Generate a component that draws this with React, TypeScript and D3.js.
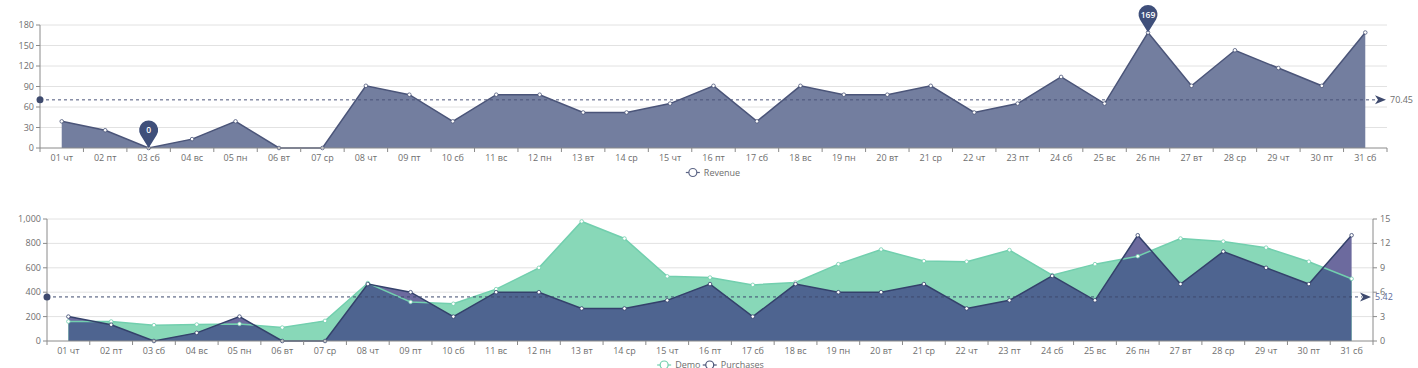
import React from "react";
import * as d3 from "d3";

// --- data ---
const days = ["01 чт", "02 пт", "03 сб", "04 вс", "05 пн", "06 вт", "07 ср", "08 чт", "09 пт", "10 сб",
  "11 вс", "12 пн", "13 вт", "14 ср", "15 чт", "16 пт", "17 сб", "18 вс", "19 пн", "20 вт", "21 ср",
  "22 чт", "23 пт", "24 сб", "25 вс", "26 пн", "27 вт", "28 ср", "29 чт", "30 пт", "31 сб"];
const revenue = [39, 26, 0, 13, 39, 0, 0, 91, 78, 39, 78, 78, 52, 52, 65, 91, 39, 91, 78, 78, 91,
  52, 65, 104, 65, 169, 91, 143, 117, 91, 169];
const purchases = [3, 2, 0, 1, 3, 0, 0, 7, 6, 3, 6, 6, 4, 4, 5, 7, 3, 7, 6, 6, 7, 4, 5, 8, 5, 13, 7, 11, 9, 7, 13];
const demo = [160, 160, 130, 135, 140, 110, 165, 475, 320, 305, 425, 600, 980, 840, 530, 520, 460, 480,
  630, 750, 655, 650, 745, 540, 630, 695, 840, 815, 765, 650, 510];
const revTicks = [0, 30, 60, 90, 120, 150, 180];
const demoTicks = [0, 200, 400, 600, 800, 1000];
const purchTicks = [0, 3, 6, 9, 12, 15];

const FONT = "'Open Sans', 'Noto Sans', sans-serif";
const AXIS = "#8a8a8a";
const LABEL = "#6e6e6e";
const GRID = "#e2e2e2";

const pinPath = (px: number, py: number, r = 9.5, d = 18) => {
  const cx = px, cy = py - d;
  const cos = r / d;
  const sin = Math.sqrt(1 - cos * cos);
  const ax = cx - r * sin, ay = cy + r * cos;
  const bx = cx + r * sin;
  return `M${px},${py} L${ax},${ay} A${r},${r} 0 1 1 ${bx},${ay} Z`;
};

const arrowPath = (tx: number, ty: number) =>
  `M${tx},${ty} L${tx - 11},${ty - 4.5} L${tx - 8},${ty} L${tx - 11},${ty + 4.5} Z`;

function XAxis({ x, y }: { x: d3.ScaleBand<string>; y: number }) {
  const bw = x.bandwidth();
  const [r0, r1] = x.range();
  const bounds = days.map((d) => x(d)!).concat([r1]);
  return (
    <g>
      <line x1={r0} x2={r1} y1={y} y2={y} stroke={AXIS} />
      {bounds.map((b, i) => (
        <line key={i} x1={b} x2={b} y1={y} y2={y + 4} stroke={AXIS} />
      ))}
      {days.map((d) => (
        <text key={d} x={x(d)! + bw / 2} y={y + 13} textAnchor="middle" fontSize={9} fill={LABEL}>
          {d}
        </text>
      ))}
    </g>
  );
}

function Legend({ items, cx, y }: { items: { name: string; color: string }[]; cx: number; y: number }) {
  // approximate widths
  const widths = items.map((it) => 20 + it.name.length * 4.9);
  const total = widths.reduce((a, b) => a + b, 0) + (items.length - 1) * 6;
  let cur = cx - total / 2;
  return (
    <g>
      {items.map((it, i) => {
        const x0 = cur;
        cur += widths[i] + 6;
        return (
          <g key={it.name}>
            <line x1={x0} x2={x0 + 14} y1={y} y2={y} stroke={it.color} strokeWidth={1.2} />
            <circle cx={x0 + 7} cy={y} r={4} fill="#fff" stroke={it.color} strokeWidth={1.2} />
            <text x={x0 + 18} y={y + 3} fontSize={9} fill={LABEL}>{it.name}</text>
          </g>
        );
      })}
    </g>
  );
}

function TopChart() {
  const x = d3.scaleBand<string>().domain(days).range([40, 1387]);
  const y = d3.scaleLinear().domain([0, 180]).range([148, 25]);
  const bw = x.bandwidth();
  const px = (i: number) => x(days[i])! + bw / 2;
  const area = d3.area<number>().x((_, i) => px(i)).y0(y(0)).y1((d) => y(d));
  const line = d3.line<number>().x((_, i) => px(i)).y((d) => y(d));
  const avg = d3.mean(revenue)!;
  const maxI = revenue.indexOf(d3.max(revenue)!);
  const minI = revenue.indexOf(d3.min(revenue)!);
  const lineColor = "#4b5579";
  return (
    <g>
      {revTicks.map((t) => (
        <g key={t}>
          {t > 0 && <line x1={40} x2={1387} y1={y(t)} y2={y(t)} stroke={GRID} />}
          <line x1={36} x2={40} y1={y(t)} y2={y(t)} stroke={AXIS} />
          <text x={34} y={y(t) + 3} textAnchor="end" fontSize={9} fill={LABEL}>{t}</text>
        </g>
      ))}
      <line x1={40} x2={40} y1={y(180)} y2={y(0)} stroke={AXIS} />
      <path d={area(revenue)!} fill="#737e9f" />
      <path d={line(revenue)!} fill="none" stroke={lineColor} strokeWidth={1.5} />
      {revenue.map((v, i) => (
        <circle key={i} cx={px(i)} cy={y(v)} r={1.8} fill="#fff" stroke={lineColor} strokeWidth={0.8} />
      ))}
      <XAxis x={x} y={148} />
      {/* average mark line */}
      <line x1={40} x2={1378} y1={y(avg)} y2={y(avg)} stroke="#4b5579" strokeDasharray="3,3" strokeWidth={1} />
      <circle cx={40} cy={y(avg)} r={3.5} fill="#3e4a6e" />
      <path d={arrowPath(1386, y(avg))} fill="#3e4a6e" />
      <text x={1390} y={y(avg) + 3} fontSize={9} fill={LABEL}>{avg.toFixed(2)}</text>
      {/* mark points */}
      {[minI, maxI].map((i) => (
        <g key={i}>
          <path d={pinPath(px(i), y(revenue[i]))} fill="#3f4f7a" />
          <text x={px(i)} y={y(revenue[i]) - 15} textAnchor="middle" fontSize={8.5} fontWeight={600} fill="#fff">
            {revenue[i]}
          </text>
        </g>
      ))}
      <Legend items={[{ name: "Revenue", color: "#5b6485" }]} cx={713} y={172.5} />
    </g>
  );
}

function BottomChart() {
  const x = d3.scaleBand<string>().domain(days).range([47, 1373]);
  const yL = d3.scaleLinear().domain([0, 1000]).range([341, 219]);
  const yR = d3.scaleLinear().domain([0, 15]).range([341, 219]);
  const bw = x.bandwidth();
  const px = (i: number) => x(days[i])! + bw / 2;
  const demoArea = d3.area<number>().x((_, i) => px(i)).y0(yL(0)).y1((d) => yL(d));
  const demoLine = d3.line<number>().x((_, i) => px(i)).y((d) => yL(d));
  const purArea = d3.area<number>().x((_, i) => px(i)).y0(yR(0)).y1((d) => yR(d));
  const purLine = d3.line<number>().x((_, i) => px(i)).y((d) => yR(d));
  const avg = d3.mean(purchases)!;
  const green = "#72cfae";
  const navy = "#34416b";
  return (
    <g>
      <defs>
        <clipPath id="demoClip">
          <path d={demoArea(demo)!} />
        </clipPath>
      </defs>
      {demoTicks.map((t) => (
        <g key={t}>
          {t > 0 && <line x1={47} x2={1373} y1={yL(t)} y2={yL(t)} stroke={GRID} />}
          <line x1={43} x2={47} y1={yL(t)} y2={yL(t)} stroke={AXIS} />
          <text x={41} y={yL(t) + 3} textAnchor="end" fontSize={9} fill={LABEL}>{d3.format(",")(t)}</text>
        </g>
      ))}
      {purchTicks.map((t) => (
        <g key={t}>
          <line x1={1373} x2={1377} y1={yR(t)} y2={yR(t)} stroke={AXIS} />
          <text x={1380} y={yR(t) + 3} fontSize={9} fill={LABEL}>{t}</text>
        </g>
      ))}
      <line x1={47} x2={47} y1={219} y2={341} stroke={AXIS} />
      <line x1={1373} x2={1373} y1={219} y2={341} stroke={AXIS} />
      <path d={purArea(purchases)!} fill="#6c6a9e" />
      <path d={demoArea(demo)!} fill="#88d8b8" />
      <path d={purArea(purchases)!} fill="#4e6490" clipPath="url(#demoClip)" />
      <path d={demoLine(demo)!} fill="none" stroke={green} strokeWidth={1.5} />
      <path d={purLine(purchases)!} fill="none" stroke={navy} strokeWidth={1.5} />
      {demo.map((v, i) => (
        <circle key={"d" + i} cx={px(i)} cy={yL(v)} r={1.8} fill="#fff" stroke={green} strokeWidth={0.8} />
      ))}
      {purchases.map((v, i) => (
        <circle key={"p" + i} cx={px(i)} cy={yR(v)} r={1.8} fill="#fff" stroke={navy} strokeWidth={0.8} />
      ))}
      <XAxis x={x} y={341} />
      <line x1={47} x2={1362} y1={yR(avg)} y2={yR(avg)} stroke="#3e4a6e" strokeDasharray="3,3" strokeWidth={1} />
      <circle cx={47} cy={yR(avg)} r={3.5} fill="#3e4a6e" />
      <path d={arrowPath(1371, yR(avg))} fill="#3e4a6e" />
      <text x={1375} y={yR(avg) + 3} fontSize={9} fill="#5b6a9a">{avg.toFixed(2)}</text>
      <Legend
        items={[{ name: "Demo", color: green }, { name: "Purchases", color: "#4b5579" }]}
        cx={712}
        y={365}
      />
    </g>
  );
}

export default function App() {
  return (
    <div style={{ position: "absolute", left: 0, top: 0, width: 1418, height: 368, background: "#fff" }}>
      <svg width={1418} height={368} style={{ display: "block", fontFamily: FONT }}>
        <TopChart />
        <BottomChart />
      </svg>
    </div>
  );
}
